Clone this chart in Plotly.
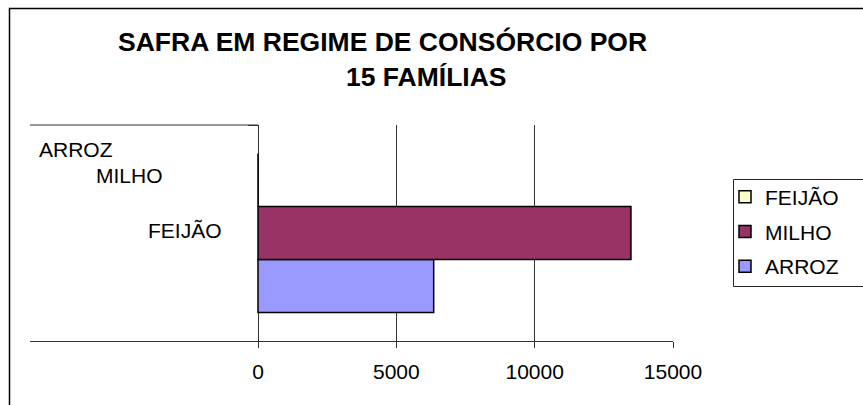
import plotly.graph_objects as go

# ---- data ----
series_names = ["ARROZ", "MILHO", "FEIJÃO"]
series_values = [6350, 13480, 0]
series_colors = ["#9999FF", "#993366", "#FFFFCC"]
legend_ranks = [3, 2, 1]
category = ["SAFRA"]
category_labels = ["ARROZ", "MILHO", "FEIJÃO"]
x_ticks = [0, 5000, 10000, 15000]
title_lines = ["SAFRA EM REGIME DE CONSÓRCIO POR", "15 FAMÍLIAS"]

W, H = 863, 405
L, R, T, B = 30, 673, 125, 341
XMIN = -8241
XMAX = 15000
FONT = "Liberation Sans, Arial, sans-serif"


def xp(px):
    return (px - L) / (R - L)


def yp(py):
    return (B - py) / (B - T)


fig = go.Figure()
for name, val, col, rank in zip(series_names, series_values, series_colors, legend_ranks):
    fig.add_trace(go.Bar(
        y=category, x=[val], name=name, orientation="h",
        marker=dict(color=col, line=dict(color="black", width=1.5)),
        legendgroup=name, legendrank=rank,
    ))

annotations = []
annotations.append(dict(text="<b>%s</b>" % title_lines[0], xref="paper", yref="paper",
                        x=xp(382.5), y=yp(42), xanchor="center", yanchor="middle",
                        showarrow=False, font=dict(family=FONT, size=26.5, color="black")))
annotations.append(dict(text="<b>%s</b>" % title_lines[1], xref="paper", yref="paper",
                        x=xp(426.5), y=yp(77), xanchor="center", yanchor="middle",
                        showarrow=False, font=dict(family=FONT, size=26.5, color="black")))
label_pos = [(37, 149), (94, 175), (146, 230.5)]
for lab, (lx, ly) in zip(category_labels, label_pos):
    annotations.append(dict(text=lab, xref="paper", yref="paper", x=xp(lx), y=yp(ly),
                            xanchor="left", yanchor="middle", showarrow=False,
                            font=dict(family=FONT, size=21, color="black")))

shapes = [
    # outer chart border (right/bottom edges lie outside the picture)
    dict(type="rect", xref="paper", yref="paper", x0=xp(9.5), x1=xp(900), y0=yp(8.5), y1=yp(440),
         line=dict(color="black", width=1.5), fillcolor="rgba(0,0,0,0)", layer="below"),
    # top frame line of the left part of the plot area
    dict(type="line", xref="x", yref="paper", x0=XMIN, x1=0, y0=1, y1=1,
         line=dict(color="#333", width=1)),
    # legend frame (its right edge lies outside the picture)
    dict(type="rect", xref="paper", yref="paper", x0=xp(733.5), x1=xp(900), y0=yp(179.5), y1=yp(286.5),
         line=dict(color="#222", width=1), fillcolor="white", layer="below"),
]

fig.update_layout(
    width=W, height=H,
    margin=dict(l=L, r=W - R, t=T, b=H - B, autoexpand=False),
    paper_bgcolor="white", plot_bgcolor="white",
    barmode="group", bargap=0.264, bargroupgap=0,
    showlegend=True,
    legend=dict(xref="container", yref="container", x=725 / W, y=1 - 176.5 / H,
                xanchor="left", yanchor="top",
                traceorder="grouped", bgcolor="rgba(0,0,0,0)", borderwidth=0,
                font=dict(family=FONT, size=21, color="black"), tracegroupgap=4.5,
                itemwidth=30),
    xaxis=dict(range=[XMIN, XMAX], tickvals=x_ticks, ticktext=[str(v) for v in x_ticks],
               showgrid=True, gridcolor="#333", gridwidth=1,
               zeroline=True, zerolinecolor="#333", zerolinewidth=1,
               showline=True, linecolor="#333", linewidth=1,
               ticks="outside", ticklen=6, tickcolor="#333", ticklabelstandoff=6,
               tickfont=dict(family=FONT, size=21, color="black"), fixedrange=True),
    yaxis=dict(showticklabels=False, showgrid=False, zeroline=False, showline=False,
               anchor="free", position=xp(258), ticks="outside", tickson="boundaries",
               ticklen=10, tickcolor="#333", fixedrange=True),
    annotations=annotations,
    shapes=shapes,
    font=dict(family=FONT),
)

fig.write_html("out.html", config={"displayModeBar": False},
               post_script="document.body.style.margin='0';")
